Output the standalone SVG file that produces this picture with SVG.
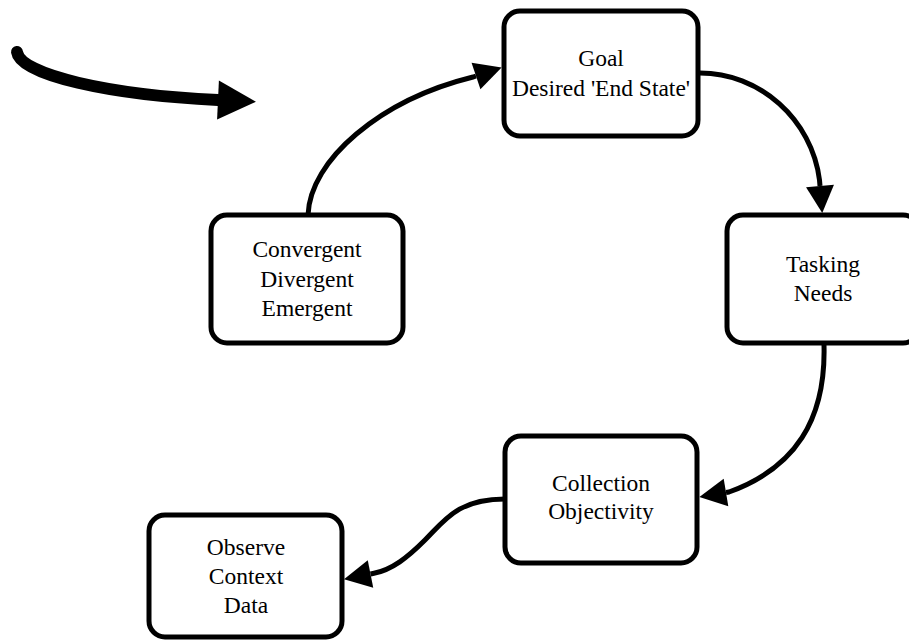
<svg xmlns="http://www.w3.org/2000/svg" width="909" height="640" viewBox="0 0 909 640">
<style>
  .box { fill: #ffffff; stroke: #000000; stroke-width: 5; }
  .lbl { font-family: "Liberation Serif", "Times New Roman", serif; font-size: 23.5px; fill: #000000; text-anchor: middle; }
  .edge { fill: none; stroke: #000000; stroke-width: 5; }
  .big { fill: none; stroke: #000000; stroke-width: 12; stroke-linecap: round; }
</style>
<defs>
  <marker id="ah" markerUnits="userSpaceOnUse" markerWidth="30" markerHeight="30" viewBox="0 -15 30 30" refX="0" refY="0" orient="auto" overflow="visible">
    <path d="M0,-14 L27,0 L0,14 z" fill="#000000"/>
  </marker>
  <marker id="ahBig" markerUnits="userSpaceOnUse" markerWidth="40" markerHeight="40" viewBox="0 -20 40 40" refX="0" refY="0" orient="auto" overflow="visible">
    <path d="M0,-19.5 L38,0 L0,19.5 z" fill="#000000"/>
  </marker>
</defs>
<rect width="909" height="640" fill="#ffffff"/>
<g id="connectors">
  <path class="big" d="M17,52 C20,75 110,95 218,100" marker-end="url(#ahBig)"/>
  <path class="edge" d="M308,215 C310,160 380,100 473,77 L476,76" marker-end="url(#ah)"/>
  <path class="edge" d="M698,73 C760,72 812,120 819.5,180 L820,186" marker-end="url(#ah)"/>
  <path class="edge" d="M824,345 C826,420 795,468 729,492 L726,492.5" marker-end="url(#ah)"/>
  <path class="edge" d="M505,499 C458,499 445,520 425,540 C408,557 392,570 373,573.5 L370.5,574" marker-end="url(#ah)"/>
</g>
<g id="goal">
  <rect class="box" x="504" y="11" width="194" height="125" rx="16"/>
  <text class="lbl" x="601" y="66">Goal</text>
  <text class="lbl" x="601" y="96">Desired 'End State'</text>
</g>
<g id="convergent">
  <rect class="box" x="211" y="215" width="192" height="128" rx="16"/>
  <text class="lbl" x="307" y="257">Convergent</text>
  <text class="lbl" x="307" y="287">Divergent</text>
  <text class="lbl" x="307" y="316">Emergent</text>
</g>
<g id="tasking">
  <rect class="box" x="727" y="215" width="192" height="128" rx="16"/>
  <text class="lbl" x="823" y="272">Tasking</text>
  <text class="lbl" x="823" y="301">Needs</text>
</g>
<g id="collection">
  <rect class="box" x="505" y="436" width="192" height="127" rx="16"/>
  <text class="lbl" x="601" y="491">Collection</text>
  <text class="lbl" x="601" y="519">Objectivity</text>
</g>
<g id="observe">
  <rect class="box" x="149" y="515" width="193" height="122" rx="16"/>
  <text class="lbl" x="246" y="555">Observe</text>
  <text class="lbl" x="246" y="584">Context</text>
  <text class="lbl" x="246" y="613">Data</text>
</g>
</svg>
